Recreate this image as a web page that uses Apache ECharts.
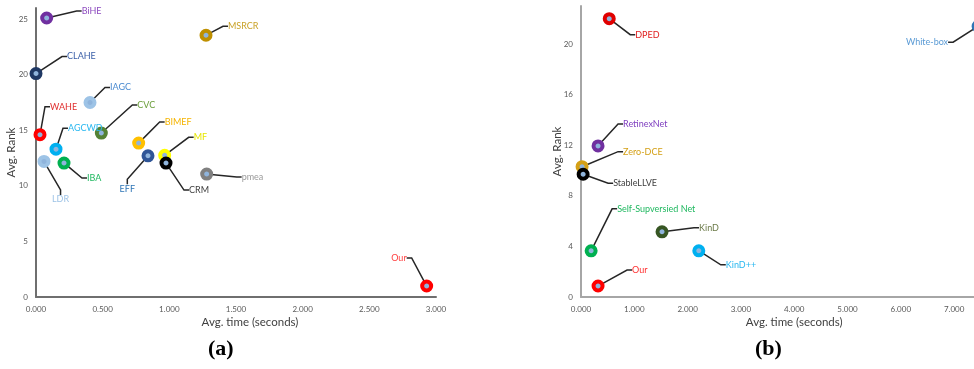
<!DOCTYPE html>
<html><head><meta charset="utf-8">
<script src="https://cdn.jsdelivr.net/npm/echarts@6/dist/echarts.min.js"></script>
<style>html,body{margin:0;padding:0;background:#fff}#c{width:974px;height:369px}</style>
</head><body><div id="c"></div>
<script>
// ---- Panel (a) data ----
const methodsA = ['BiHE','MSRCR','CLAHE','IAGC','WAHE','CVC','AGCWD','BIMEF','EFF','MF','CRM','LDR','IBA','pmea','Our'];
const timeA = [0.08, 1.275, 0.0, 0.405, 0.03, 0.49, 0.15, 0.77, 0.84, 0.965, 0.975, 0.06, 0.21, 1.28, 2.93];
const rankA = [25.1, 23.55, 20.1, 17.5, 14.6, 14.75, 13.3, 13.85, 12.7, 12.75, 12.05, 12.2, 12.05, 11.06, 0.99];
const xTicksA = [0, 0.5, 1, 1.5, 2, 2.5, 3];
const yTicksA = [0, 5, 10, 15, 20, 25];

// ---- Panel (b) data ----
const methodsB = ['DPED','RetinexNet','Zero-DCE','StableLLVE','Self-Supversied Net','KinD','KinD++','Our','White-box'];
const timeB = [0.53, 0.32, 0.02, 0.04, 0.19, 1.52, 2.21, 0.32, 7.45];
const rankB = [22.0, 11.94, 10.3, 9.7, 3.65, 5.15, 3.65, 0.87, 21.4];
const yTicksB = [0, 4, 8, 12, 16, 20];

// ---- styles ----
const markerA = ['#7030a0','#bf9000','#1f3864','#9dc3e6','#ff0000','#548235','#00b0f0','#ffc000','#2f5597','#ffff00','#000000','#9dc3e6','#00b050','#808080','#ff0000'];
const textA = ['#8e4cc0','#c9a227','#3a5fa8','#4a8ad0','#e03030','#6a9e3a','#2ab8f0','#f5b400','#2e75b6','#e6e600','#404040','#9dc3e6','#20b860','#9a9a9a','#ff4040'];
const offsA = [[35,-7,'left'],[22,-9,'left'],[31,-17,'left'],[20,-15,'left'],[10,-28,'left'],[36,-28,'left'],[12,-21,'left'],[26,-21,'left'],[-13,33,'right'],[29,-18,'left'],[23,27,'left'],[8,38,'left'],[23,15,'left'],[35,3,'left'],[-20,-28,'right']];

const markerB = ['#e00000','#7030a0','#d4a017','#000000','#00b050','#375623','#00b0f0','#ff0000','#2e75b6'];
const textB = ['#e02020','#8040c0','#d4a017','#404040','#20b860','#6b7a48','#2ab8f0','#ff3030','#5b9bd5'];
const offsB = [[26,16,'left'],[25,-22,'left'],[41,-15,'left'],[30,9,'left'],[26,-42,'left'],[37,-4,'left'],[27,14,'left'],[34,-16,'left'],[-30,16,'right']];

const FONT = 'Lato';
const PAD = 3;

function buildData(names, xs, ys, mcol, tcol) {
  return names.map((n, i) => ({
    name: n, value: [xs[i], ys[i]],
    itemStyle: { borderColor: mcol[i] },
    label: { color: tcol[i] }
  }));
}

function axisX(idx, max, interval, lineColor, nameGap, namePad) {
  return {
    type: 'value', gridIndex: idx, min: 0, max: max, interval: interval,
    axisLine: { show: true, onZero: false, lineStyle: { color: lineColor, width: 2 } },
    axisTick: { show: false }, splitLine: { show: false },
    axisLabel: { color: '#595959', fontSize: 8, fontFamily: FONT, margin: 8, formatter: v => v.toFixed(3) },
    name: 'Avg. time (seconds)', nameLocation: 'middle', nameGap: nameGap, nameMoveOverlap: false,
    nameTextStyle: { color: '#404040', fontSize: 11.5, fontFamily: FONT, padding: namePad }
  };
}
function axisY(idx, max, interval, lineColor, nameGap) {
  return {
    type: 'value', gridIndex: idx, min: 0, max: max, interval: interval,
    axisLine: { show: true, onZero: false, lineStyle: { color: lineColor, width: 2 } },
    axisTick: { show: false }, splitLine: { show: false },
    axisLabel: { color: '#595959', fontSize: 8, fontFamily: FONT, margin: 8, showMaxLabel: false },
    name: 'Avg. Rank', nameLocation: 'middle', nameRotate: 90, nameGap: nameGap, nameMoveOverlap: false,
    nameTextStyle: { color: '#404040', fontSize: 11.5, fontFamily: FONT }
  };
}
function series(idx, data, offs) {
  return {
    type: 'scatter', xAxisIndex: idx, yAxisIndex: idx, data: data,
    symbol: 'circle', symbolSize: 9,
    itemStyle: { color: '#8fb4dc', borderWidth: 4, opacity: 1 },
    label: { show: true, position: 'inside', formatter: '{b}', fontSize: 9, fontFamily: FONT, padding: [1, PAD] },
    labelLine: { show: true, length2: 5, lineStyle: { color: '#262626', width: 1.5 } },
    labelLayout: p => {
      const o = offs[p.dataIndex];
      return { dx: o[0] + (o[2] === 'left' ? -PAD : PAD), dy: o[1], align: o[2], verticalAlign: 'middle' };
    },
    emphasis: { disabled: true },
    animation: false
  };
}

const chart = echarts.init(document.getElementById('c'), null, { renderer: 'canvas' });
chart.setOption({
  backgroundColor: '#ffffff',
  animation: false,
  grid: [
    { left: 36, top: 8, width: 400, height: 289, outerBoundsMode: 'none', containLabel: false },
    { left: 581, top: 6, width: 426.4, height: 291, outerBoundsMode: 'none', containLabel: false }
  ],
  xAxis: [axisX(0, 3, 0.5, '#6f6f6f', 19, [0, 0, 0, 28]), axisX(1, 8, 1, '#a6a6a6', 19, [0, 0, 0, 0])],
  yAxis: [axisY(0, 26, 5, '#6f6f6f', 19), axisY(1, 23, 4, '#a6a6a6', 18)],
  series: [
    series(0, buildData(methodsA, timeA, rankA, markerA, textA), offsA),
    series(1, buildData(methodsB, timeB, rankB, markerB, textB), offsB)
  ],
  graphic: [
    { type: 'text', left: 208, top: 338, style: { text: '(a)', font: 'bold 22px "Liberation Serif"', fill: '#000' } },
    { type: 'text', left: 755, top: 338, style: { text: '(b)', font: 'bold 22px "Liberation Serif"', fill: '#000' } }
  ]
});
</script>
</body></html>
